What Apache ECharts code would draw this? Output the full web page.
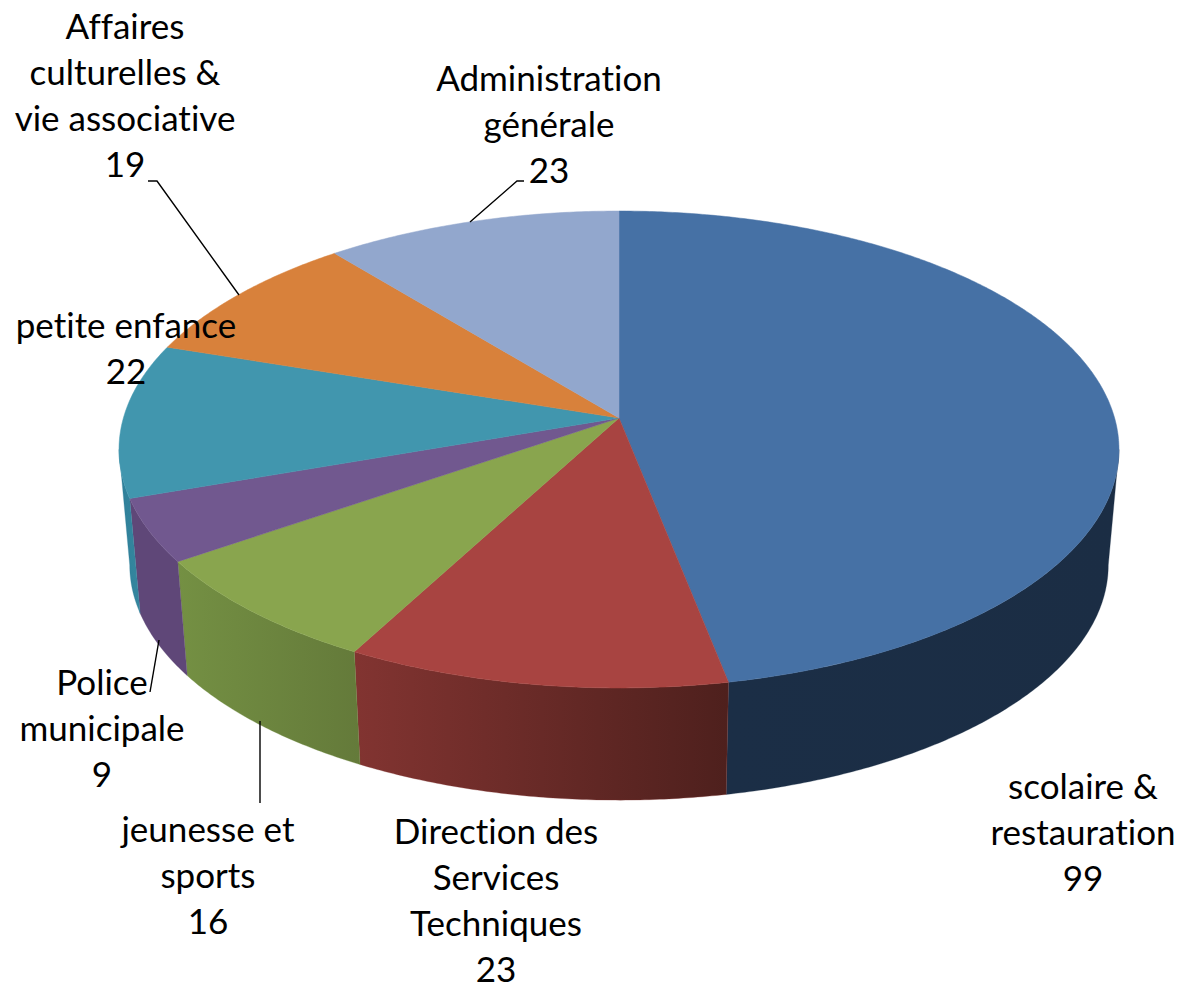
<!DOCTYPE html>
<html>
<head>
<meta charset="utf-8">
<style>html,body{margin:0;padding:0;background:#fff}#c{width:1180px;height:983px}svg text{font-variant-ligatures:none !important;font-feature-settings:"liga" 0,"clig" 0,"dlig" 0 !important;text-rendering:optimizeSpeed !important}</style>
<script src="https://cdn.jsdelivr.net/npm/echarts@6/dist/echarts.min.js"></script>
</head>
<body>
<div id="c"></div>
<script>
const categories = ['scolaire &\nrestauration','Direction des\nServices\nTechniques','jeunesse et\nsports','Police\nmunicipale','petite enfance','Affaires\nculturelles &\nvie associative','Administration\ngénérale'];
const values = [99, 23, 16, 9, 22, 19, 23];

const topColors = ['#4671a5','#a84441','#89a54e','#71588f','#4196ae','#d8813b','#92a7cd'];
const sideColors = [['#1b2e46','#1b2d44'],['#823431','#4e201d'],['#749043','#647a3a'],['#5f4778','#5f4778'],['#2f7f99','#35879f'],['#a8652d','#a8652d'],['#6f85ab','#6f85ab']];
const labelCenters = [[1083,831],[496,899],[208,874],[102,727],[126,347],[125,94],[549,123]];
const leaders = [null,null,[[260,803],[260,721]],[[150,692],[159,640]],null,[[148,181],[157,181],[239,295]],[[524,181],[517,181],[470,222]]];

const total = values.reduce((a,b)=>a+b,0);
const P = {cx:619, cy:418, a:234.3, b:495.6, k:0.132, bottomCy:534, bottomA:231, bottomB:485};
const frontFrom = Math.PI/2 + Math.asin(P.k), frontTo = 3*Math.PI/2 - Math.asin(P.k);

function projectTop(t){const u=Math.sin(t),v=Math.cos(t),w=1+P.k*v;return [P.cx+P.b*u/w,P.cy-P.a*v/w];}
function projectBottom(t){const u=Math.sin(t),v=Math.cos(t),w=1+P.k*v;return [P.cx+P.bottomB*u/w,P.bottomCy-P.bottomA*v/w];}
function arc(fn,t0,t1){const n=Math.max(2,Math.ceil((t1-t0)/(Math.PI/360)));const r=[];for(let i=0;i<=n;i++)r.push(fn(t0+(t1-t0)*i/n));return r;}

function renderItem(params, api){
  const i = params.dataIndex;
  let before = 0; for(let j=0;j<i;j++) before += values[j];
  const t0 = before/total*2*Math.PI, t1 = (before+api.value(0))/total*2*Math.PI;
  const children = [];
  const s0 = Math.max(t0,frontFrom), s1 = Math.min(t1,frontTo);
  if(s1 > s0){
    const a = arc(projectTop,s0,s1), b = arc(projectBottom,s0,s1);
    children.push({type:'polygon',z2:1,shape:{points:a.concat(b.reverse())},
      style:{fill:{type:'linear',x:0,y:0,x2:1,y2:0,colorStops:[{offset:0,color:sideColors[i][0]},{offset:1,color:sideColors[i][1]}]},stroke:sideColors[i][0],lineWidth:0.3}});
  }
  children.push({type:'polygon',z2:2,shape:{points:[[P.cx,P.cy]].concat(arc(projectTop,t0,t1))},style:{fill:topColors[i],stroke:topColors[i],lineWidth:0.5}});
  if(leaders[i]) children.push({type:'polyline',z2:3,shape:{points:leaders[i]},style:{fill:null,stroke:'#000',lineWidth:1.4}});
  children.push({type:'text',z2:4,x:labelCenters[i][0],y:labelCenters[i][1],
    style:{text:categories[i]+'\n'+api.value(0),fill:'#000',font:'35px Lato, "Open Sans", sans-serif',lineHeight:46,align:'center',verticalAlign:'middle'}});
  return {type:'group',children};
}

const chart = echarts.init(document.getElementById('c'),null,{renderer:'svg'});
chart.setOption({
  animation:false,
  series:[{type:'custom',coordinateSystem:'none',silent:true,renderItem,data:values.map(v=>[v])}]
});
</script>
</body>
</html>
